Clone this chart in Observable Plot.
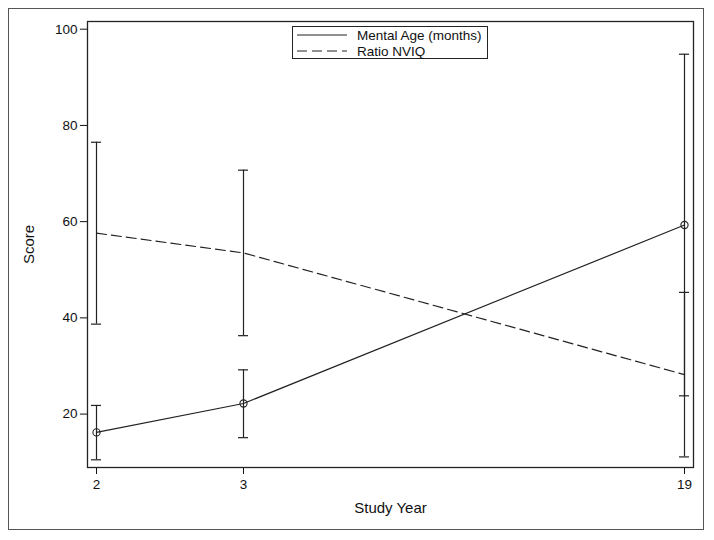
<!DOCTYPE html>
<html>
<head>
<meta charset="utf-8">
<script src="https://cdn.jsdelivr.net/npm/d3@7"></script>
<script src="https://cdn.jsdelivr.net/npm/@observablehq/plot@0.6"></script>
<style>
  html, body { margin: 0; padding: 0; background: #fff; }
  #wrap { position: relative; width: 714px; height: 540px; font-family: "Liberation Sans", Arial, sans-serif; }
  #border { position: absolute; left: 8px; top: 8px; width: 694px; height: 520px; border: 1.5px solid #555; pointer-events: none; }
  #legend { position: absolute; left: 292px; top: 26px; width: 194px; height: 31px; border: 1px solid #222; background: #fff; font-size: 13.5px; color: #111; }
  #legend .row { position: absolute; left: 4px; height: 16px; display: flex; align-items: center; }
  #legend svg { margin-right: 10px; }
  #chart g[aria-label$="tick label"] text { font-size: 13.5px !important; }
  #chart g[aria-label$="axis label"] text { font-size: 15px !important; }
</style>
</head>
<body>
<div id="wrap">
  <div id="chart"></div>
  <div id="border"></div>
  <div id="legend"></div>
</div>
<script>
// ---- data ----
const years = ["2", "3", "19"];
const mentalAge = [16.2, 22.2, 59.3];
const mentalAgeLow = [10.5, 15.1, 23.8];
const mentalAgeHigh = [21.8, 29.2, 94.8];
const nviq = [57.6, 53.5, 28.2];
const nviqLow = [38.7, 36.3, 11.1];
const nviqHigh = [76.5, 70.7, 45.3];
const seriesNames = ["Mental Age (months)", "Ratio NVIQ"];
const yTicks = [20, 40, 60, 80, 100];
// x axis is categorical with uneven spacing: gaps are placeholders in the point domain
const xDomain = ["2", "3", "gap1", "gap2", "19"];

const ma = years.map((y, i) => ({year: y, v: mentalAge[i], lo: mentalAgeLow[i], hi: mentalAgeHigh[i]}));
const nq = years.map((y, i) => ({year: y, v: nviq[i], lo: nviqLow[i], hi: nviqHigh[i]}));
const bars = [...ma, ...nq];
const caps = bars.flatMap(d => [{year: d.year, y: d.lo}, {year: d.year, y: d.hi}]);

const ink = "#222";
const dash = "10,5";

const chart = Plot.plot({
  width: 714,
  height: 540,
  marginLeft: 87,
  marginRight: 21,
  marginTop: 21,
  marginBottom: 73,
  style: {fontFamily: "Liberation Sans, Arial, sans-serif", fontSize: "13px", color: "#111", background: "transparent"},
  x: {type: "point", domain: xDomain, padding: 0.05, ticks: years, tickSize: 7, tickPadding: 5,
      label: "Study Year", labelAnchor: "center", labelOffset: 45, labelArrow: "none"},
  y: {domain: [8.9, 101.6], ticks: yTicks, tickSize: 7, tickPadding: 3,
      label: "Score", labelAnchor: "center", labelOffset: 64, labelArrow: "none"},
  marks: [
    Plot.frame({stroke: ink, strokeWidth: 1.3}),
    Plot.ruleX(bars, {x: "year", y1: "lo", y2: "hi", stroke: ink, strokeWidth: 1.2}),
    Plot.ruleY(caps, {x1: "year", x2: "year", y: "y", insetLeft: -5, insetRight: -5, stroke: ink, strokeWidth: 1.2}),
    Plot.line(nq, {x: "year", y: "v", stroke: ink, strokeWidth: 1.2, strokeDasharray: dash}),
    Plot.line(ma, {x: "year", y: "v", stroke: ink, strokeWidth: 1.2}),
    Plot.dot(ma, {x: "year", y: "v", r: 3.6, stroke: ink, fill: "none", strokeWidth: 1.1})
  ]
});
document.getElementById("chart").appendChild(chart);

// legend
const legend = document.getElementById("legend");
const styles = [null, dash];
seriesNames.forEach((name, i) => {
  const row = document.createElement("div");
  row.className = "row";
  row.style.top = (i === 0 ? 0 : 16) + "px";
  row.innerHTML = `<svg width="50" height="10"><line x1="0" x2="50" y1="5" y2="5" stroke="${ink}" stroke-width="1.2" ${styles[i] ? `stroke-dasharray="${styles[i]}"` : ""}/></svg><span>${name}</span>`;
  legend.appendChild(row);
});
</script>
</body>
</html>
